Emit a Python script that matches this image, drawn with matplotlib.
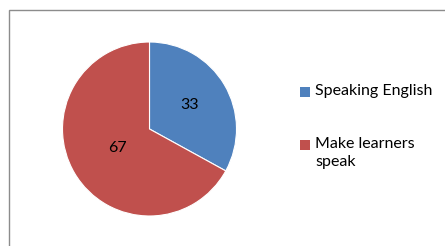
import numpy as np
import matplotlib.pyplot as plt
from matplotlib.patches import Rectangle

labels = ['Speaking English', 'Make learners\nspeak']
values = [33, 67]
colors = ['#4F81BD', '#C0504D']
label_dist = [0.54, 0.43]

plt.rcParams['font.family'] = ['Lato', 'DejaVu Sans']

W, H = 445, 246
fig = plt.figure(figsize=(W / 100, H / 100), dpi=100)
fig.patch.set_facecolor('white')

# ramka wykresu (ucieta z prawej i z dolu)
fig.patches.append(Rectangle((8.5 / W, -0.1), 1.2, 1.1 - 9.5 / H, transform=fig.transFigure,
                             fill=False, edgecolor='#8c8c8c', linewidth=1.0))

cx, cy, r = 149.5, 129, 87
ax = fig.add_axes([(cx - r) / W, (H - cy - r) / H, 2 * r / W, 2 * r / H])
wedges, _ = ax.pie(values, colors=colors, startangle=90, counterclock=False,
                   radius=1, wedgeprops=dict(linewidth=0.8, edgecolor='white'))
ax.set_xlim(-1, 1)
ax.set_ylim(-1, 1)
ax.set_aspect('equal')
ax.axis('off')

for w, v, d in zip(wedges, values, label_dist):
    ang = np.deg2rad((w.theta1 + w.theta2) / 2)
    ax.text(d * np.cos(ang), d * np.sin(ang), str(v), ha='center', va='center',
            fontsize=11.5, color='black')

# legenda recznie - kwadrat + tekst
leg_y = [92, 145]
for w, lab, y in zip(wedges, labels, leg_y):
    fig.patches.append(Rectangle((300 / W, 1 - (y + 5) / H), 10 / W, 10 / H,
                                 transform=fig.transFigure, facecolor=w.get_facecolor(),
                                 edgecolor='none'))
    fig.text(315 / W, 1 - (y - 8) / H, lab, ha='left', va='top', fontsize=11.5,
             linespacing=1.35)

fig.savefig('out.png', dpi=100)
